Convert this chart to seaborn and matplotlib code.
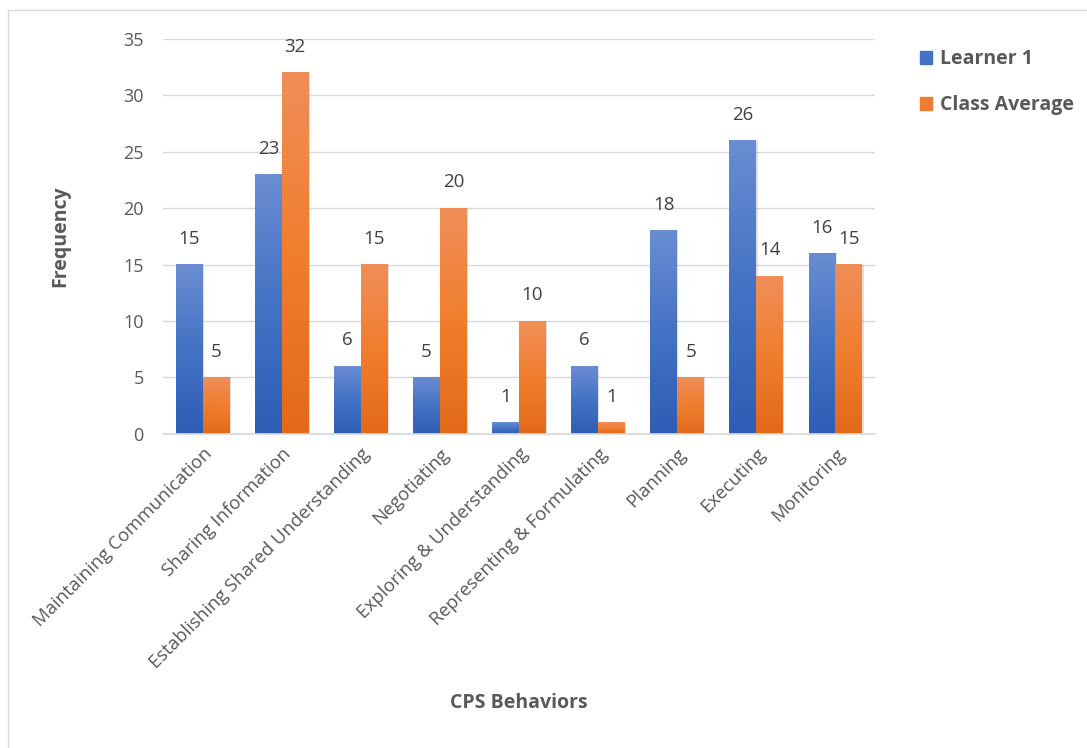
import numpy as np
import pandas as pd
import matplotlib
matplotlib.use("Agg")
import matplotlib.pyplot as plt
from matplotlib.colors import LinearSegmentedColormap
from matplotlib.lines import Line2D
from matplotlib.patches import Rectangle
import seaborn as sns

behaviors = ["Maintaining Communication", "Sharing Information",
             "Establishing Shared Understanding", "Negotiating",
             "Exploring & Understanding", "Representing & Formulating",
             "Planning", "Executing", "Monitoring"]
learner1 = [15, 23, 6, 5, 1, 6, 18, 26, 16]
class_avg = [5, 32, 15, 20, 10, 1, 5, 14, 15]
series = ["Learner 1", "Class Average"]

df = pd.DataFrame({
    "Behavior": behaviors * 2,
    "Frequency": learner1 + class_avg,
    "Series": [series[0]] * len(behaviors) + [series[1]] * len(behaviors),
})

sns.set_theme(style="white")
plt.rcParams["font.family"] = ["Open Sans", "DejaVu Sans"]

grey = "#595959"
fig = plt.figure(figsize=(10.87, 7.48), dpi=100)
ax = fig.add_axes([0.15, 0.42, 0.655, 0.528])

palette = {"Learner 1": "#4472C4", "Class Average": "#ED7D31"}
sns.barplot(data=df, x="Behavior", y="Frequency", hue="Series",
            palette=palette, width=0.68, ax=ax, legend=False,
            saturation=1)

# gradient fill for bars, like the original
grads = {
    "Learner 1": LinearSegmentedColormap.from_list("b", ["#2E5DB5", "#4472C4", "#6A8DD2"]),
    "Class Average": LinearSegmentedColormap.from_list("o", ["#E2691A", "#F07E2E", "#F08E58"]),
}
grad = np.linspace(0, 1, 256).reshape(-1, 1)
for cont, name in zip(ax.containers, series):
    for p in cont.patches:
        x0, y0 = p.get_x(), p.get_y()
        w, h = p.get_width(), p.get_height()
        # soft shadow
        ax.add_patch(Rectangle((x0 + 0.015, y0), w, h, facecolor="#000000",
                               alpha=0.12, edgecolor="none", zorder=1.5))
        ax.imshow(grad, cmap=grads[name], origin="lower", aspect="auto",
                  extent=(x0, x0 + w, y0, y0 + h), zorder=2)
        p.set_facecolor("none")
        p.set_edgecolor("none")
    ax.bar_label(cont, padding=12, fontsize=13.5, color="#404040")

ax.set_xlim(-0.5, len(behaviors) - 0.5)
ax.set_ylim(0, 35)
ax.set_yticks(range(0, 36, 5))
ax.yaxis.grid(True, color="#d9d9d9", linewidth=1)
ax.set_axisbelow(True)
for s in ["top", "right", "left"]:
    ax.spines[s].set_visible(False)
ax.spines["bottom"].set_color("#d9d9d9")
ax.tick_params(axis="both", length=0, labelsize=13, colors=grey, pad=14)
ax.tick_params(axis="x", pad=8)
plt.setp(ax.get_xticklabels(), rotation=45, ha="right",
         rotation_mode="anchor", fontsize=13.3)

ax.set_ylabel("Frequency", fontsize=14, fontweight="bold", color=grey, labelpad=38)
ax.set_xlabel("")
fig.text(0.477, 0.06, "CPS Behaviors", fontsize=14, fontweight="bold",
         color=grey, ha="center", va="center")

handles = [Rectangle((0, 0), 1, 1, color=palette[s]) for s in series]
fig.legend(handles, series, loc="upper left", bbox_to_anchor=(0.83, 0.958),
           frameon=False, prop={"weight": "bold", "size": 14},
           labelcolor=grey, handlelength=0.65, handleheight=0.65,
           handletextpad=0.4, labelspacing=1.35)

# outer chart frame
fig.add_artist(Line2D([8 / 1087, 8 / 1087], [0, 1 - 10 / 748],
                      transform=fig.transFigure, color="#d9d9d9", lw=1))
fig.add_artist(Line2D([8 / 1087, 1], [1 - 10 / 748, 1 - 10 / 748],
                      transform=fig.transFigure, color="#d9d9d9", lw=1))

fig.savefig("out.png", dpi=100)
